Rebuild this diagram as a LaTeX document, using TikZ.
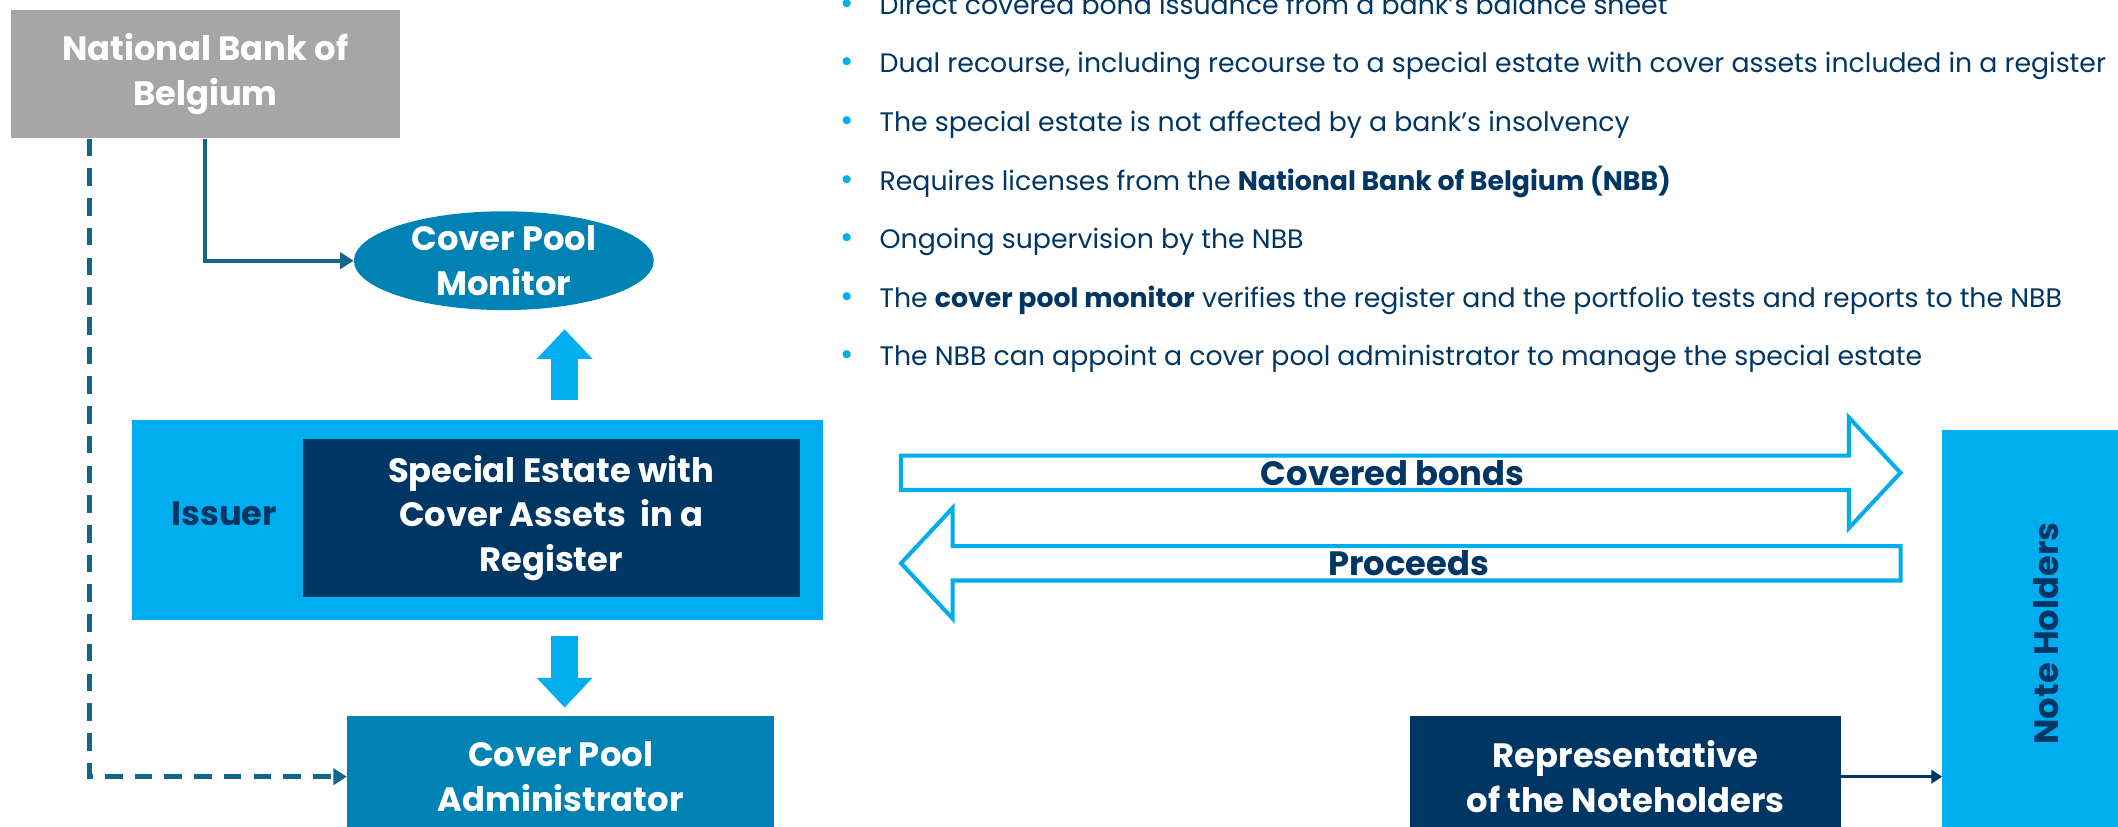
\documentclass[tikz,border=0pt]{standalone}
\usepackage{fontspec}
\setmainfont{Poppins}
\usetikzlibrary{arrows.meta,positioning,calc,shapes.geometric,shapes.arrows}
\definecolor{nbbgray}{RGB}{166,166,166}
\definecolor{poolteal}{RGB}{0,130,180}
\definecolor{linkteal}{RGB}{18,102,138}
\definecolor{skyblue}{RGB}{0,174,239}
\definecolor{navy}{RGB}{0,54,100}

\begin{document}
\begin{tikzpicture}[
  x=1pt,y=-1pt,
  >=Latex,
  boxtext/.style={font=\fontsize{25}{33}\selectfont\bfseries,text=white,align=center,inner sep=0pt},
  graybox/.style={boxtext,fill=nbbgray},
  poolbox/.style={boxtext,fill=poolteal},
  navybox/.style={boxtext,fill=navy},
  skybox/.style={fill=skyblue,inner sep=0pt},
  link/.style={-{Triangle[length=10pt,width=12pt]},line width=3pt,draw=linkteal},
  dashlink/.style={link,dash pattern=on 13pt off 9pt,line width=3.5pt},
  replink/.style={-{Triangle[length=8pt,width=10pt]},line width=2.5pt,draw=navy},
  fatarrow/.style={-{Triangle[length=22pt,width=40pt]},line width=20pt,draw=skyblue},
  flowarrow/.style={single arrow,draw=skyblue,fill=white,line width=3pt,
    minimum height=740pt,minimum width=82pt,single arrow head extend=24pt,
    single arrow tip angle=94,inner sep=0pt,
    font=\fontsize{25}{28}\selectfont\bfseries,text=navy},
  bulletdot/.style={text=skyblue,font=\fontsize{24}{26}\selectfont,inner sep=0pt},
  bullettext/.style={anchor=west,inner sep=0pt,text height=13pt,text depth=4pt,
    font=\fontsize{19.8}{22}\selectfont,text=navy}
]
\useasboundingbox (0,0) rectangle (1568,612);

% -------------------------------------------------------------------------
% Supervisor and monitor
% -------------------------------------------------------------------------
\node[graybox,minimum width=288pt,minimum height=95pt] (nbb) at (152,55)
  {National Bank of\\Belgium};
\node[poolbox,ellipse,minimum width=222pt,minimum height=66pt] (monitor) at (373,193)
  {Cover Pool\\Monitor};

% -------------------------------------------------------------------------
% Issuer with the special estate
% -------------------------------------------------------------------------
\node[skybox,minimum width=511pt,minimum height=148pt] (issuer) at (353.5,385) {};
\node[navybox,minimum width=368pt,minimum height=117pt] (estate) at (408,383.5)
  {Special Estate with\\Cover Assets\ \ in a\\Register};
\node[font=\fontsize{25}{30}\selectfont\bfseries,text=navy] (issuerlbl) at (166,380) {Issuer};
\node[poolbox,minimum width=316pt,minimum height=90pt] (admin) at (415,575)
  {Cover Pool\\Administrator};

\draw[fatarrow] ($(issuer.north -| admin.north)+(3,-15)$) -- ($(monitor.south -| admin.north)+(3,14)$);
\draw[fatarrow] ($(issuer.south -| admin.north)+(3,12)$) -- ($(admin.north)+(3,-6)$);
\draw[link] (nbb.south) |- (monitor.west);
\draw[dashlink] ([xshift=-86pt]nbb.south) |- (admin.west);

% -------------------------------------------------------------------------
% Key features
% -------------------------------------------------------------------------
\foreach \txt [count=\i from 0] in {
  {Direct covered bond issuance from a bank’s balance sheet},
  {Dual recourse, including recourse to a special estate with cover assets included in a register},
  {The special estate is not affected by a bank’s insolvency},
  {Requires licenses from the \textbf{National Bank of Belgium (NBB)}},
  {Ongoing supervision by the NBB},
  {The \textbf{cover pool monitor} verifies the register and the portfolio tests and reports to the NBB},
  {The NBB can appoint a cover pool administrator to manage the special estate}}
{
  \node[bulletdot] (dot\i) at (627,5+43.4*\i) {•};
  \node[bullettext] (item\i) at (651,6+43.4*\i) {\txt};
}

% -------------------------------------------------------------------------
% Bonds, proceeds and note holders
% -------------------------------------------------------------------------
\node[flowarrow] (bonds) at (1031,350) {Covered bonds};
\node[flowarrow,shape border rotate=180] (proceeds) at (1043,417) {Proceeds};

\node[skybox,minimum width=154pt,minimum height=302pt] (holders) at (1515,469) {};
\node[rotate=90,font=\fontsize{25}{28}\selectfont\bfseries,text=navy] (holderslbl)
  at (holders.center) {Note Holders};
\node[navybox,minimum width=319pt,minimum height=90pt] (rep) at (1203.5,575)
  {Representative\\of the Noteholders};
\draw[replink] (rep.east) -- (rep.east -| holders.west);
\end{tikzpicture}
\end{document}
